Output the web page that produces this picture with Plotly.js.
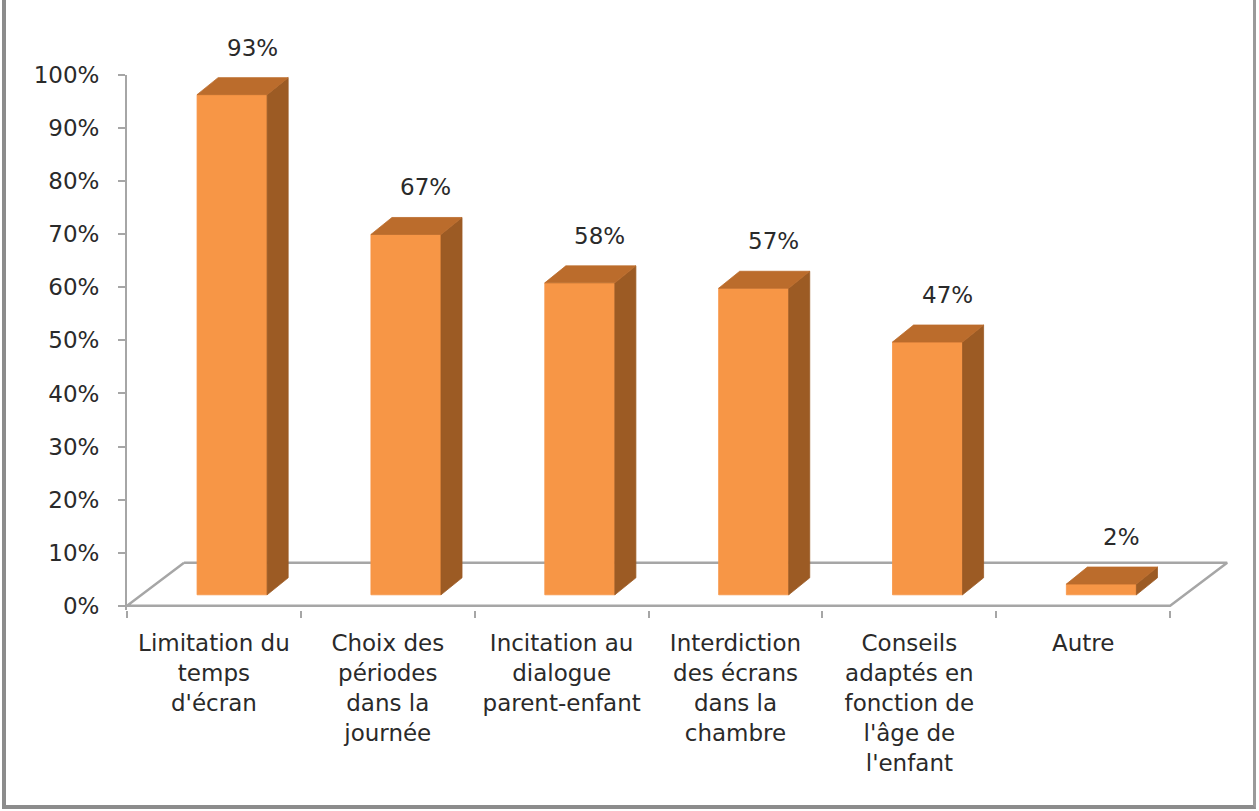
<!DOCTYPE html>
<html>
<head>
<meta charset="utf-8">
<script src="https://cdn.plot.ly/plotly-3.0.1.min.js"></script>
<style>
  html, body { margin: 0; padding: 0; background: #fff; }
  #wrap { position: relative; width: 1259px; height: 811px; overflow: hidden; }
  #chart { width: 1259px; height: 811px; }
  #frame { position: absolute; left: 2px; right: 3px; top: -10px; bottom: 2px;
           border-left: 4px solid #8c8c8c; border-right: 3px solid #9a9a9a;
           border-bottom: 4px solid #8c8c8c; pointer-events: none; }
</style>
</head>
<body>
<div id="wrap"><div id="chart"></div><div id="frame"></div></div>
<script>
// ---- data ----
const categories = [
  "Limitation du<br>temps<br>d'écran",
  "Choix des<br>périodes<br>dans la<br>journée",
  "Incitation au<br>dialogue<br>parent-enfant",
  "Interdiction<br>des écrans<br>dans la<br>chambre",
  "Conseils<br>adaptés en<br>fonction de<br>l'âge de<br>l'enfant",
  "Autre"
];
const values = [93, 67, 58, 57, 47, 2];
const valueLabels = ["93%", "67%", "58%", "57%", "47%", "2%"];
const yTicks = [0, 10, 20, 30, 40, 50, 60, 70, 80, 90, 100];

// ---- styling / geometry constants ----
const FRONT = "#F79646", TOP = "#BB6C2C", SIDE = "#9C5B24";
const AXIS_GRAY = "#a6a6a6";
const FONT = "DejaVu Sans, Liberation Sans, Arial, sans-serif";
const barOffset = 0.403 - 0.5;  // left of front face relative to category center
const barWidth = 0.403;
const depthX = 0.121, depthY = 3.16;   // bar depth in (x2, y2) units
const floorDX = 0.328, floorDY = 8.1;  // floor depth in (x2, y) units
const n = categories.length;

// ---- build bar faces ----
const fx = [], fy = [], tx = [], ty = [], sx = [], sy = [];
const annX = [];
values.forEach((v, i) => {
  const xl = i + barOffset, xr = xl + barWidth;
  fx.push(xl, xr, xr, xl, xl, null); fy.push(0, 0, v, v, 0, null);
  tx.push(xl, xr, xr + depthX, xl + depthX, xl, null);
  ty.push(v, v, v + depthY, v + depthY, v, null);
  sx.push(xr, xr + depthX, xr + depthX, xr, xr, null);
  sy.push(0, depthY, v + depthY, v, 0, null);
  annX.push(xl + barWidth / 2 + 0.115);
});

const faceTrace = (x, y, c) => ({
  type: "scatter", mode: "lines", x: x, y: y, xaxis: "x2", yaxis: "y2",
  fill: "toself", fillcolor: c, line: { color: c, width: 0.8 },
  hoverinfo: "skip", showlegend: false
});

const left = -0.5, right = n - 0.5;
const floorTrace = {
  type: "scatter", mode: "lines", xaxis: "x2", yaxis: "y",
  x: [left + floorDX, left, right, right + floorDX, left + floorDX],
  y: [floorDY, 0, 0, floorDY, floorDY],
  line: { color: AXIS_GRAY, width: 2.5 }, hoverinfo: "skip", showlegend: false
};

// category anchor trace for category x axis
const catTrace = {
  type: "bar", x: categories, y: values.map(() => 0), marker: { color: "rgba(0,0,0,0)" },
  hoverinfo: "skip", showlegend: false
};

const annotations = values.map((v, i) => ({
  xref: "x2", yref: "y2", x: annX[i], y: v, text: valueLabels[i],
  showarrow: false, yshift: 47, yanchor: "middle", xanchor: "center",
  font: { family: FONT, size: 23, color: "#2a2a2a" }
}));

const layout = {
  width: 1259, height: 811,
  margin: { l: 127, r: 28, t: 75, b: 201 },
  paper_bgcolor: "rgba(0,0,0,0)", plot_bgcolor: "rgba(0,0,0,0)",
  showlegend: false,
  xaxis: {
    type: "category", range: [-0.5, 5.85], tickson: "boundaries",
    ticks: "outside", ticklen: 7, tickwidth: 2, tickcolor: AXIS_GRAY,
    showline: false, showgrid: false, zeroline: false,
    tickfont: { family: FONT, size: 23, color: "#2a2a2a" },
    ticklabelstandoff: 17, fixedrange: true
  },
  xaxis2: { overlaying: "x", range: [-0.5, 5.85], visible: false, fixedrange: true },
  yaxis: {
    range: [-0.8, 100], tickvals: yTicks, ticktext: yTicks.map(t => t + "%"),
    ticks: "outside", ticklen: 7, tickwidth: 2, tickcolor: AXIS_GRAY,
    showline: true, linecolor: AXIS_GRAY, linewidth: 2,
    showgrid: false, zeroline: false,
    tickfont: { family: FONT, size: 23, color: "#2a2a2a" },
    ticklabelstandoff: 14, fixedrange: true
  },
  yaxis2: { overlaying: "y", range: [-2.825, 96.65], visible: false, fixedrange: true },
  annotations: annotations
};

Plotly.newPlot("chart", [
  catTrace, floorTrace,
  faceTrace(fx, fy, FRONT), faceTrace(sx, sy, SIDE), faceTrace(tx, ty, TOP)
], layout, { displayModeBar: false, staticPlot: true });
</script>
</body>
</html>
